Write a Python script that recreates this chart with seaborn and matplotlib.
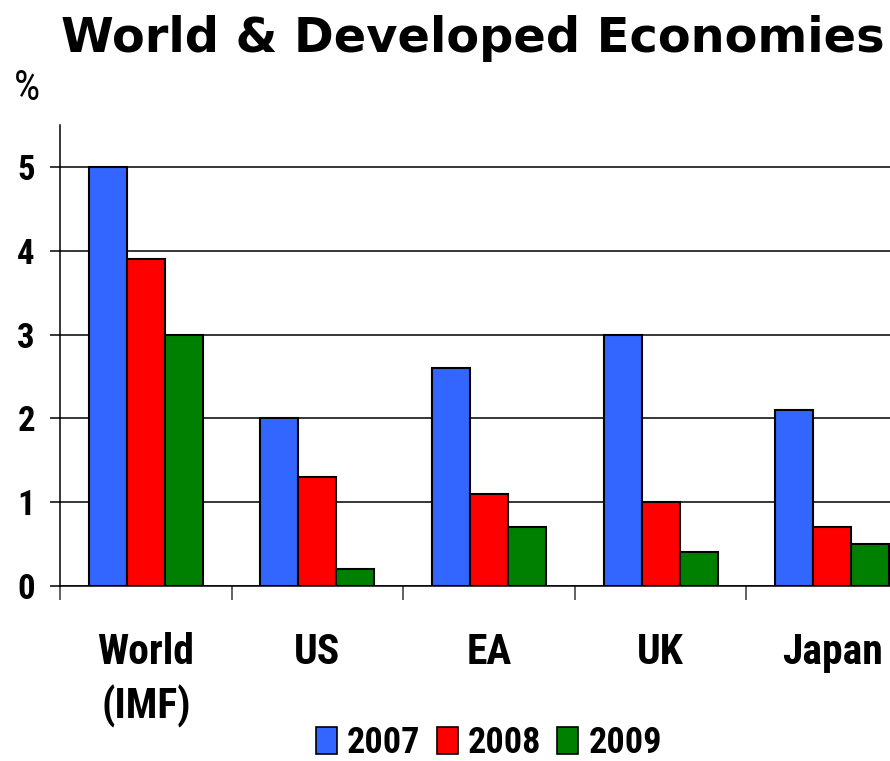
import matplotlib
matplotlib.use("Agg")
import matplotlib.pyplot as plt
from matplotlib.patches import Patch
import seaborn as sns
import pandas as pd

# Real GDP growth, % per year
regions = ["World\n(IMF)", "US", "EA", "UK", "Japan"]
years = ["2007", "2008", "2009"]
growth_2007 = [5.0, 2.0, 2.6, 3.0, 2.1]
growth_2008 = [3.9, 1.3, 1.1, 1.0, 0.7]
growth_2009 = [3.0, 0.2, 0.7, 0.4, 0.5]
colors = ["#3366FF", "#FF0000", "#008000"]

rows = []
for yr, vals in zip(years, [growth_2007, growth_2008, growth_2009]):
    for reg, v in zip(regions, vals):
        rows.append({"region": reg, "year": yr, "growth": v})
df = pd.DataFrame(rows)

sns.set_theme(style="white")
narrow = "Roboto Condensed"
plt.rcParams["font.family"] = [narrow, "DejaVu Sans"]
plt.rcParams["text.color"] = "black"
plt.rcParams["xtick.labelcolor"] = "black"
plt.rcParams["ytick.labelcolor"] = "black"

W, H = 890, 761
fig = plt.figure(figsize=(W / 100, H / 100), dpi=100)
# axes spans x 60..918 px (its right part runs past the figure edge), y 125..586 px
ax = fig.add_axes([60 / W, 1 - 586 / H, 858 / W, (586 - 125) / H])

sns.barplot(data=df, x="region", y="growth", hue="year", palette=colors,
            order=regions, hue_order=years, width=0.665, ax=ax,
            edgecolor="black", linewidth=1.5, saturation=1, legend=False)

ax.set_xlim(-0.5, 4.5)
ax.set_ylim(0, 5.5)
ax.set_yticks([0, 1, 2, 3, 4, 5])
ax.set_yticklabels(["0", "1", "2", "3", "4", "5"], fontsize=25, fontweight="bold")
ax.yaxis.grid(True, color="black", linewidth=1.1)
ax.set_axisbelow(True)
ax.tick_params(axis="y", length=7, width=1.1, color="black", pad=11, left=True)

ax.set_xticks(range(len(regions)))
ax.set_xticklabels(regions, fontsize=30, fontweight="bold", linespacing=1.36)
ax.tick_params(axis="x", which="major", length=0, pad=33)
ax.set_xticks([i - 0.5 for i in range(len(regions) + 1)], minor=True)
ax.tick_params(axis="x", which="minor", length=10, width=1.3, color="#555555", bottom=True)

for side in ["top", "right"]:
    ax.spines[side].set_visible(False)
for side in ["left", "bottom"]:
    ax.spines[side].set_color("black")
    ax.spines[side].set_linewidth(1.1)
ax.set_xlabel("")
ax.set_ylabel("")

fig.text(473 / W, 1 - 52 / H, "World & Developed Economies", ha="center", va="baseline",
         fontsize=34.5, fontweight="bold", family="DejaVu Sans", color="black")
fig.text(27 / W, 1 - 88 / H, "%", ha="center", va="center", fontsize=30,
         family=narrow, fontweight="normal")

handles = [Patch(facecolor=c, edgecolor="black", linewidth=1.2, label=y)
           for c, y in zip(colors, years)]
fig.legend(handles=handles, loc="center", bbox_to_anchor=(489 / W, 1 - 743 / H),
           ncol=3, frameon=False, prop={"size": 26, "weight": "bold", "family": narrow},
           handlelength=0.58, handleheight=0.75, handletextpad=0.28, columnspacing=0.45,
           borderpad=0)

fig.savefig("out.png", dpi=100)
